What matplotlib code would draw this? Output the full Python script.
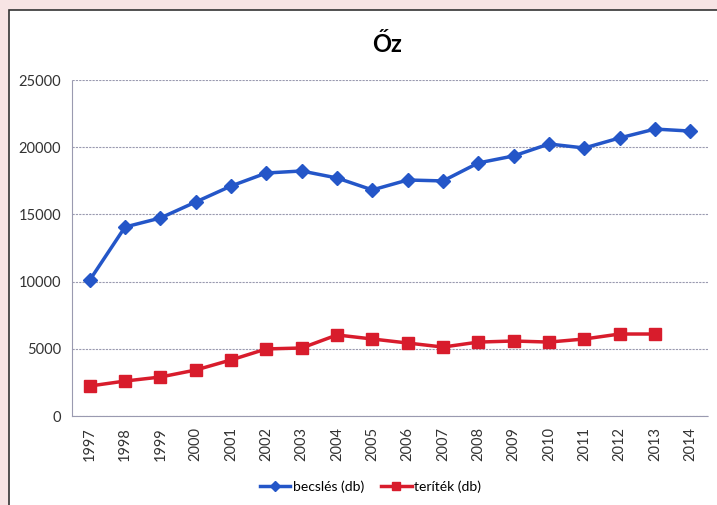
import matplotlib.pyplot as plt
from matplotlib.patches import Rectangle

# ---------------------------------------------------------------
# Data (roe deer: estimate vs harvest, pieces)
# ---------------------------------------------------------------
years = [str(y) for y in range(1997, 2015)]

becsles = [10100, 14060, 14730, 15920, 17110, 18080, 18230, 17710, 16820,
           17560, 17490, 18830, 19350, 20240, 19940, 20690, 21350, 21200]

teritek = [2230, 2600, 2900, 3420, 4170, 4990, 5060, 6030, 5730,
           5430, 5130, 5500, 5580, 5500, 5730, 6100, 6100]

yticks = [0, 5000, 10000, 15000, 20000, 25000]

plt.rcParams["font.family"] = ["Lato", "DejaVu Sans"]

fig = plt.figure(figsize=(7.17, 5.05), dpi=100)
fig.patch.set_facecolor("#f7e4e4")

# white chart panel with dark frame, like the scanned page
panel = Rectangle((9 / 717, -0.01), 1.0, 1 - 10 / 505 + 0.01,
                  transform=fig.transFigure, facecolor="white",
                  edgecolor="#333333", linewidth=1.2, zorder=-5)
fig.patches.append(panel)

ax = fig.add_axes([72 / 717, 1 - 416 / 505, 636 / 717, 336 / 505])
ax.set_facecolor("none")

x_b = list(range(len(becsles)))
x_t = list(range(len(teritek)))

ax.plot(x_b, becsles, color="#2456c8", linewidth=2.5, marker="D",
        markersize=7, label="becslés (db)", zorder=3)
ax.plot(x_t, teritek, color="#d81c2c", linewidth=2.5, marker="s",
        markersize=8, label="teríték (db)", zorder=3)

ax.set_xlim(-0.5, len(years) - 0.5)
ax.set_ylim(0, 25000)
ax.set_xticks(range(len(years)))
ax.set_xticklabels(years, rotation=90, fontsize=10.5, color="#333333")
ax.set_yticks(yticks)
ax.set_yticklabels([str(v) for v in yticks], fontsize=10.5, color="#333333")
ax.tick_params(length=0, pad=8)

# dashed grey gridlines
ax.grid(axis="y", color="#9a9ab0", linestyle=(0, (2, 1)), linewidth=0.8)
for side in ["top", "right"]:
    ax.spines[side].set_visible(False)
for side in ["left", "bottom"]:
    ax.spines[side].set_color("#9a9ab0")
    ax.spines[side].set_linestyle((0, (2, 1)))
    ax.spines[side].set_linewidth(0.8)

fig.text(0.54, 1 - 45 / 505, "Őz", ha="center", va="center",
         fontsize=17, fontweight="bold", color="black")

fig.legend(loc="center", bbox_to_anchor=(0.517, 1 - 487 / 505), ncol=2,
           frameon=False, fontsize=10, handlelength=2.2, handletextpad=0.2,
           columnspacing=1.2, markerscale=0.8)

fig.savefig("out.png", dpi=100, facecolor=fig.get_facecolor())
